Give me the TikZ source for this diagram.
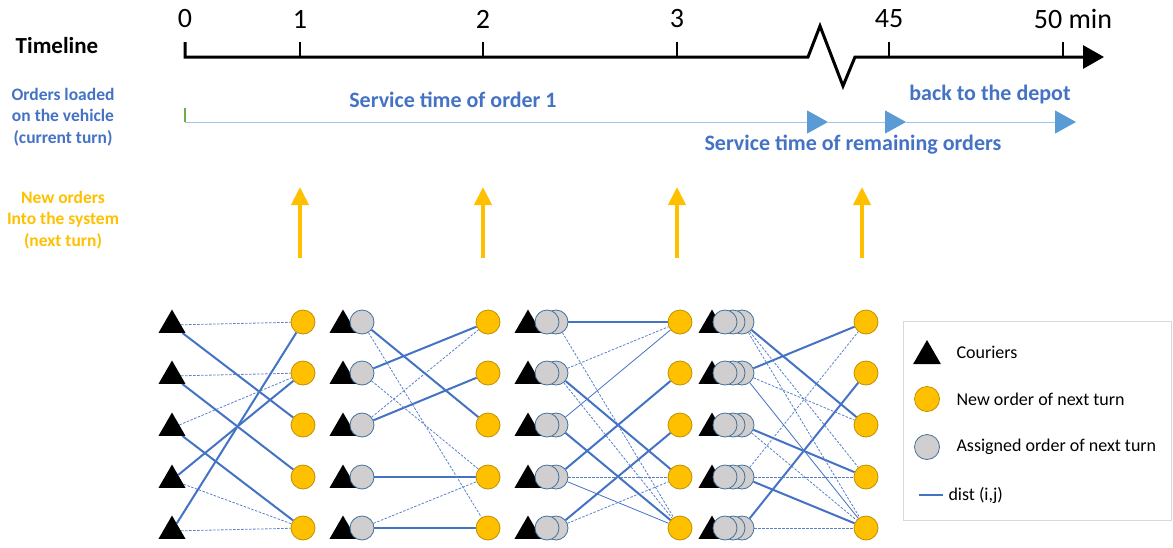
\documentclass[tikz,border=0pt]{standalone}
\usepackage{fontspec}
\setmainfont{Carlito}
\usetikzlibrary{shapes.geometric,arrows.meta,backgrounds}
\definecolor{ordblue}{HTML}{4472C4}
\definecolor{rowblue}{HTML}{9DC3E6}
\definecolor{tipblue}{HTML}{5B9BD5}
\definecolor{neworange}{HTML}{FFC000}
\definecolor{neworangeline}{HTML}{BF9000}
\definecolor{assigngray}{HTML}{D0CECE}
\definecolor{assignline}{HTML}{41719C}
\definecolor{loadgreen}{HTML}{70AD47}
\definecolor{legendgray}{HTML}{D9D9D9}

\begin{document}
\begin{tikzpicture}[x=1pt,y=-1pt,
	courier/.style={regular polygon,regular polygon sides=3,fill=black,inner sep=0pt,minimum size=31pt},
	neworder/.style={circle,fill=neworange,draw=neworangeline,line width=0.8pt,inner sep=0pt,minimum size=24pt},
	oldorder/.style={circle,fill=assigngray,draw=assignline,line width=0.8pt,inner sep=0pt,minimum size=24pt},
	dist/.style={ordblue,line width=2pt},
	thindist/.style={ordblue,line width=0.8pt},
	dashdist/.style={ordblue!90,line width=0.8pt,dash pattern=on 2.5pt off 1.5pt},
	axis/.style={line width=3pt,line join=miter},
	ticklabel/.style={font=\fontsize{28}{30}\selectfont},
	rowlabel/.style={ordblue,font=\fontsize{22}{26}\selectfont\bfseries},
	sidelabel/.style={align=center,font=\fontsize{17.5}{21.5}\selectfont\bfseries},
	legendtext/.style={anchor=west,font=\fontsize{18}{21}\selectfont},
	bluetip/.style={-{Triangle[length=21pt,width=23pt,color=tipblue]}},
	neworderarrow/.style={neworange,line width=4pt,-{Triangle[length=18pt,width=17pt]}}]
	\useasboundingbox (0,0) rectangle (1173,547);

	\node[font=\fontsize{23}{26}\selectfont\bfseries] (timeline) at (57,46) {Timeline};
	\draw[axis,-{Triangle[length=21pt,width=23pt]}] (185,42) -- (185,57) -- (808,57) -- (820,26) -- (843,86) -- (855,57) -- (1104,57);
	\foreach \x/\t in {300/1,483/2,677/3,889/45,1063/50}
		\draw[line width=2.5pt] (\x,57) -- (\x,42);
	\foreach \x/\t in {185/0,300/1,483/2,677/3,889/45}
		\node[ticklabel] (tick\t) at (\x,19) {\t};
	\node[ticklabel] (tick50) at (1073,19) {50 min};

	\node[sidelabel,ordblue] (loaded) at (63,117) {Orders loaded\\on the vehicle\\(current turn)};
	\node[sidelabel,neworange] (incoming) at (63,220) {New orders\\Into the system\\(next turn)};

	\coordinate (t0) at (185,122);
	\coordinate (t1) at (828,122);
	\coordinate (t2) at (906,122);
	\coordinate (t3) at (1076,122);
	\draw[loadgreen,line width=1.5pt] (185,108) -- (t0);
	\draw[rowblue,line width=1pt,bluetip] (t0) -- (t1);
	\draw[rowblue,line width=1pt,bluetip] (t1) -- (t2);
	\draw[rowblue,line width=1pt,bluetip] (t2) -- (t3);
	\node[rowlabel] (first) at (453,100) {Service time of order 1};
	\node[rowlabel] (depot) at (990,95) {back to the depot};
	\node[rowlabel] (remaining) at (853,145) {Service time of remaining orders};

	\foreach \x [count=\k] in {300,483,677,862} {
		\coordinate (up\k) at (\x,187);
		\coordinate (low\k) at (\x,258);
		\draw[neworderarrow] (low\k) -- (up\k);
	}

	\foreach \i/\y in {1/322,2/373,3/425,4/477,5/528} {
		\node[courier] (c1\i) at (172,\y+3) {};
		\node[neworder] (n1\i) at (303,\y) {};
		\node[courier] (c2\i) at (343,\y+3) {};
		\node[oldorder] (a2\i) at (362,\y) {};
		\node[neworder] (n2\i) at (488,\y) {};
		\node[courier] (c3\i) at (528,\y+3) {};
		\node[oldorder] (a3\i) at (556,\y) {};
		\node[oldorder] (f3\i) at (547,\y) {};
		\node[neworder] (n3\i) at (680,\y) {};
		\node[courier] (c4\i) at (712,\y+3) {};
		\node[oldorder] (a4\i) at (742,\y) {};
		\node[oldorder] (m4\i) at (733,\y) {};
		\node[oldorder] (f4\i) at (725,\y) {};
		\node[neworder] (n4\i) at (866,\y) {};
	}

	\begin{pgfonlayer}{background}
		\foreach \a/\b in {1/3,2/4,3/5,4/2,5/1}
			\draw[dist] (c1\a) -- (n1\b);
		\foreach \a/\b in {1/1,2/2,3/2,4/5,5/5}
			\draw[dashdist] (c1\a) -- (n1\b);
		\foreach \a/\b in {1/3,2/1,3/2,4/4,5/5}
			\draw[dist] (a2\a) -- (n2\b);
		\foreach \a/\b in {1/5,2/4,3/1,5/4}
			\draw[dashdist] (a2\a) -- (n2\b);
		\foreach \a/\b in {1/1,2/4,3/5,4/2,5/3}
			\draw[dist] (a3\a) -- (n3\b);
		\foreach \a/\b in {3/1,4/5}
			\draw[thindist] (a3\a) -- (n3\b);
		\foreach \a/\b in {1/5,2/1,2/5,4/4,5/4}
			\draw[dashdist] (a3\a) -- (n3\b);
		\foreach \a/\b in {1/3,2/1,3/4,4/5,5/2}
			\draw[dist] (a4\a) -- (n4\b);
		\foreach \a/\b in {2/5}
			\draw[thindist] (a4\a) -- (n4\b);
		\foreach \a/\b in {1/4,1/5,2/3,3/5,4/1,4/4,5/5}
			\draw[dashdist] (a4\a) -- (n4\b);
	\end{pgfonlayer}

	\node[draw=legendgray,line width=0.8pt,inner sep=0pt,minimum width=268pt,minimum height=199pt,anchor=north west] (legend) at (903,321) {};
	\node[courier,minimum size=32pt] (keycourier) at (927,356) {};
	\node[neworder,minimum size=25pt] (keynew) at (927,399) {};
	\node[oldorder,minimum size=25pt] (keyold) at (927,447) {};
	\coordinate (keyleft) at (919,495);
	\coordinate (keyright) at (943,495);
	\draw[ordblue,line width=1.2pt] (keyleft) -- (keyright);
	\node[legendtext] (keytext1) at (953,352) {Couriers};
	\node[legendtext] (keytext2) at (953,399) {New order of next turn};
	\node[legendtext] (keytext3) at (953,447) {Assigned order of next turn};
	\node[legendtext] (keytext4) at (945,495) {dist (i,j)};
\end{tikzpicture}
\end{document}
